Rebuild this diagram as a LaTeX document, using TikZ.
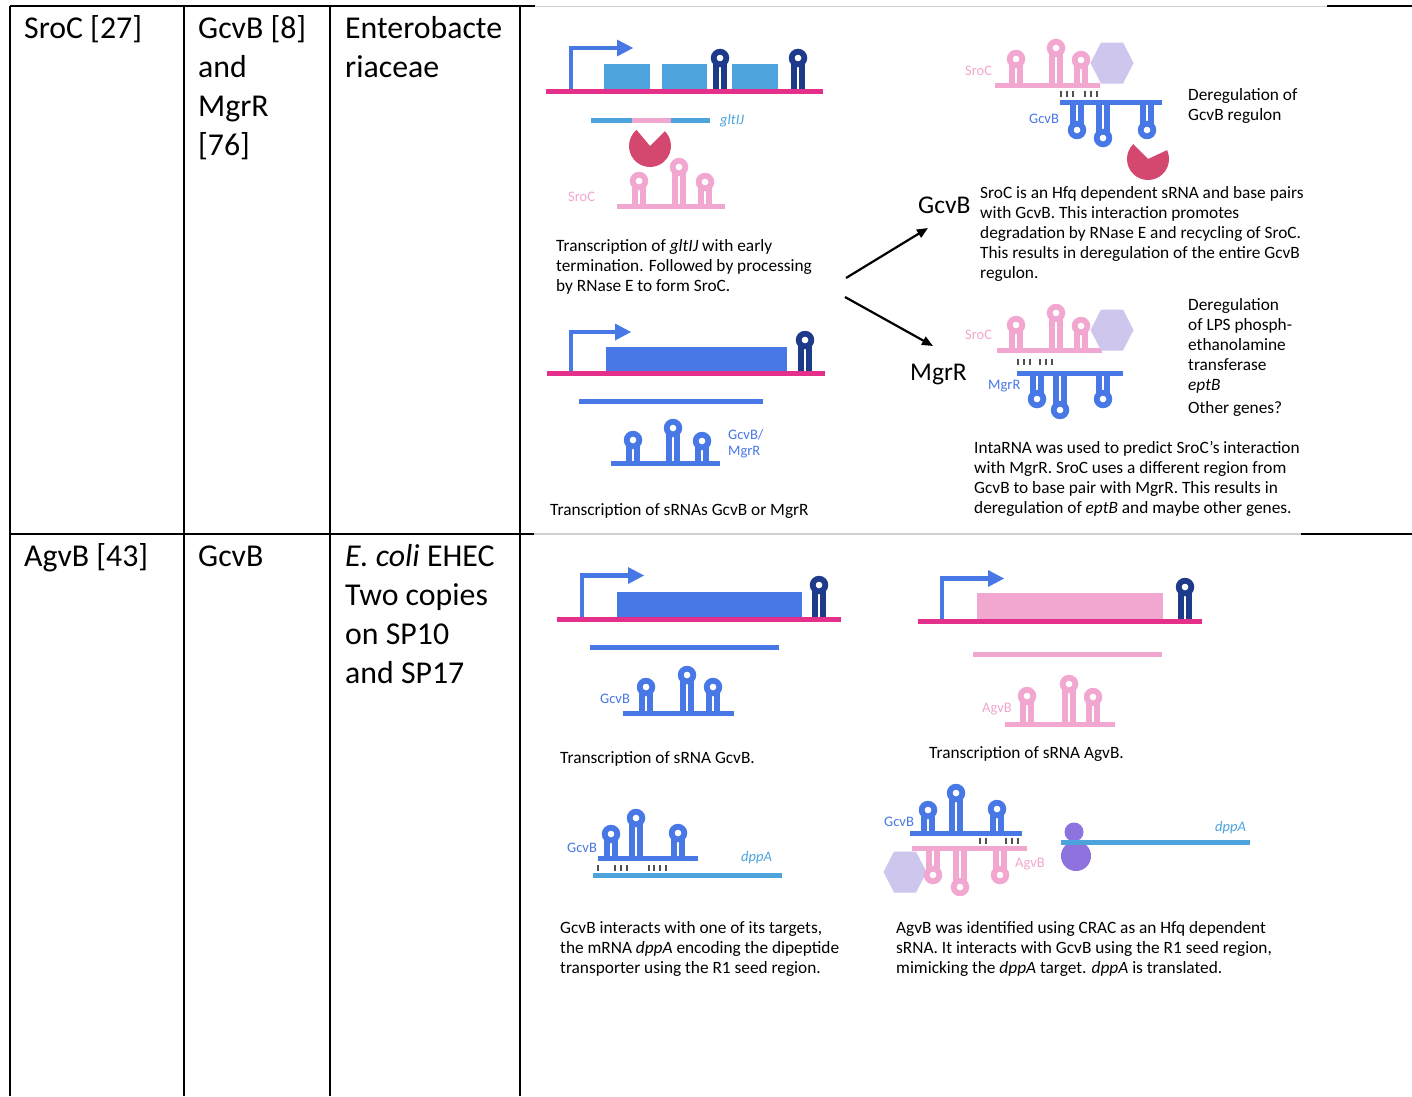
\documentclass[tikz,border=0pt]{standalone}
\usepackage{fontspec}
\setmainfont{Carlito}
\usetikzlibrary{arrows.meta}
\definecolor{cblue}{HTML}{4878E6}
\definecolor{cnavy}{HTML}{1E3A8A}
\definecolor{cmag}{HTML}{E4308A}
\definecolor{clb}{HTML}{4DA3DC}
\definecolor{cpink}{HTML}{F2A7D0}
\definecolor{ccrim}{HTML}{D4486F}
\definecolor{chex}{HTML}{CFC6EE}
\definecolor{cpur}{HTML}{8E72DD}
\definecolor{ctick}{HTML}{505050}
\tikzset{
  txt/.style={anchor=base west, inner sep=0pt, font=\fontsize{17.3}{20}\selectfont},
  cell/.style={anchor=base west, inner sep=0pt, font=\fontsize{31.8}{39}\selectfont},
  lbl/.style={anchor=west, inner sep=0pt, font=\fontsize{14.5}{17}\selectfont},
  big/.style={anchor=base west, inner sep=0pt, font=\fontsize{25.5}{30}\selectfont},
  tbl/.style={line width=1.5pt, black},
  imgframe/.style={line width=1.2pt, black!18},
  strand/.style={line width=5pt},
  arr/.style={line width=2.2pt, -{Triangle[length=11pt,width=9pt]}},
}
% hairpin pointing up / down
\newcommand\hpu[4]{\draw[line width=5.5pt,#4] ({#1-4},{#2}) -- ({#1-4},{#3+4.5}) ({#1+4},{#2}) -- ({#1+4},{#3+4.5});
  \draw[line width=5.8pt,#4] (#1,#3) circle[radius=6.3pt];}
\newcommand\hpd[4]{\draw[line width=5.5pt,#4] ({#1-4},{#2}) -- ({#1-4},{#3-4.5}) ({#1+4},{#2}) -- ({#1+4},{#3-4.5});
  \draw[line width=5.8pt,#4] (#1,#3) circle[radius=6.3pt];}
\newcommand\rnaup[5]{\draw[strand,#4] (#1,#3) -- (#2,#3);
  \foreach \hx/\hy in {#5} {\hpu{\hx}{#3}{\hy}{#4}}}
\newcommand\rnadn[5]{\draw[strand,#4] (#1,#3) -- (#2,#3);
  \foreach \hx/\hy in {#5} {\hpd{\hx}{#3}{\hy}{#4}}}
\newcommand\prom[4]{\draw[cblue, line width=4.5pt] (#1,#2) -- (#1,#3) -- ({#4+1},#3);
  \fill[cblue] (#4,{#3-8.5}) -- ({#4+16},#3) -- (#4,{#3+8.5}) -- cycle;}
\newcommand\pac[4]{\fill[ccrim] (#1,#2) -- ++(#3:21pt) arc[start angle=#3, end angle={#4+360}, radius=21pt] -- cycle;}
\newcommand\hexa[2]{\fill[chex] ({#1-21.5},#2) -- ({#1-11},{#2-20.5}) -- ({#1+11},{#2-20.5}) -- ({#1+21.5},#2) -- ({#1+11},{#2+20.5}) -- ({#1-11},{#2+20.5}) -- cycle;}
\newcommand\bpticks[2]{\foreach \tx in {#2} {\draw[ctick, line width=2.5pt] (\tx,{#1-3}) -- (\tx,{#1+3});}}
\begin{document}
\begin{tikzpicture}[x=1pt,y=-1pt]
\useasboundingbox[fill=white] (0,0) rectangle (1412,1096);
% ---------- table ----------
\draw[imgframe] (535,6.5) -- (1327,6.5);
\draw[imgframe] (534,534) -- (1301,534);
\draw[tbl] (10,6) -- (535,6);
\draw[tbl] (1327,6) -- (1412,6);
\draw[tbl] (10,534) -- (534,534);
\draw[tbl] (1301,534) -- (1412,534);
\foreach \vx in {10,184,330,520} {\draw[tbl] (\vx,6) -- (\vx,1096);}
\node[cell] (c11) at (24,38) {SroC [27]};
\foreach \t [count=\i] in {{GcvB [8]},{and},{MgrR},{[76]}} {\node[cell] (c12\i) at (198,{38+39*(\i-1)}) {\t};}
\foreach \t [count=\i] in {{Enterobacte},{riaceae}} {\node[cell] (c13\i) at (345,{38+39*(\i-1)}) {\t};}
\node[cell] (c21) at (24,566) {AgvB [43]};
\node[cell] (c22) at (198,566) {GcvB};
\foreach \t [count=\i] in {{\textit{E. coli} EHEC},{Two copies},{on SP10},{and SP17}} {\node[cell] (c23\i) at (345,{566+39*(\i-1)}) {\t};}

% ---------- top-left: gltIJ ----------
\fill[clb] (604,64) rectangle (650,89);
\fill[clb] (662,64) rectangle (707,89);
\fill[clb] (732,64) rectangle (778,89);
\prom{571}{91}{48}{617}
\draw[strand,cmag] (546,91) -- (823,91);
\hpu{720}{89}{58}{cnavy}
\hpu{798}{89}{58}{cnavy}
\draw[strand,clb] (591,120) -- (710,120);
\draw[strand,cpink] (632,120) -- (671,120);
\node[lbl,clb] (lglt) at (720,121) {\textit{gltIJ}};
\pac{650}{146}{130}{45}
\rnaup{617}{725}{206}{cpink}{639/181,679/167,705/182}
\node[lbl,cpink] (lsroc1) at (568,197) {SroC};
\foreach \t [count=\i] in {{Transcription of \textit{gltIJ} with early},{termination. Followed by processing},{by RNase E to form SroC.}} {\node[txt] (ta\i) at (556,{251+20*(\i-1)}) {\t};}

% ---------- top-left lower: GcvB / MgrR ----------
\fill[cblue] (606,347) rectangle (787,373);
\prom{571}{373}{332}{615}
\draw[strand,cmag] (547,373) -- (825,373);
\hpu{805}{371}{340}{cnavy}
\draw[strand,cblue] (579,401) -- (763,401);
\rnaup{611}{720}{463}{cblue}{633/440,673/428,702/441}
\node[lbl,cblue] (lgm1) at (728,435) {GcvB/};
\node[lbl,cblue] (lgm2) at (728,452) {MgrR};
\node[txt] (tb) at (550,515) {Transcription of sRNAs GcvB or MgrR};

% ---------- arrows ----------
\node[big] (bgcvb) at (918,213) {GcvB};
\node[big] (bmgrr) at (910,380) {MgrR};
\coordinate (a1s) at (846,278);
\coordinate (a1e) at (928,228);
\coordinate (a2s) at (845,297);
\coordinate (a2e) at (933,346);
\draw[arr] (a1s) -- (a1e);
\draw[arr] (a2s) -- (a2e);

% ---------- top-right: SroC-GcvB ----------
\rnaup{995}{1100}{85}{cpink}{1016/59,1056/48,1081/60}
\hexa{1112}{63}
\node[lbl,cpink] (lsroc2) at (965,71) {SroC};
\bpticks{94}{1061,1067,1073,1085,1091,1097}
\rnadn{1060}{1162}{102}{cblue}{1077/130,1103/138,1147/130}
\node[lbl,cblue] (lgcvb2) at (1029,119) {GcvB};
\pac{1148}{159}{135}{25}
\node[txt] (tc1) at (1188,100) {Deregulation of};
\node[txt] (tc2) at (1188,120) {GcvB regulon};
\foreach \t [count=\i] in {{SroC is an Hfq dependent sRNA and base pairs},{with GcvB. This interaction promotes},{degradation by RNase E and recycling of SroC.},{This results in deregulation of the entire GcvB},{regulon.}} {\node[txt] (td\i) at (980,{198+20.2*(\i-1)}) {\t};}

% ---------- middle-right: SroC-MgrR ----------
\rnaup{997}{1102}{350}{cpink}{1016/325,1056/313,1081/326}
\hexa{1112}{330}
\node[lbl,cpink] (lsroc3) at (965,335) {SroC};
\bpticks{362}{1018,1024,1030,1040,1046,1052}
\rnadn{1017}{1123}{373}{cblue}{1037/399,1060/410,1103/399}
\node[lbl,cblue] (lmgrr) at (988,386) {MgrR};
\foreach \t [count=\i] in {{Deregulation},{of LPS phosph-},{ethanolamine},{transferase},{\textit{eptB}}} {\node[txt] (te\i) at (1188,{310+20*(\i-1)}) {\t};}
\node[txt] (te6) at (1188,413) {Other genes?};
\foreach \t [count=\i] in {{IntaRNA was used to predict SroC’s interaction},{with MgrR. SroC uses a different region from},{GcvB to base pair with MgrR. This results in},{deregulation of \textit{eptB} and maybe other genes.}} {\node[txt] (tf\i) at (974,{453+20*(\i-1)}) {\t};}

% ---------- bottom-left: GcvB ----------
\fill[cblue] (617,592) rectangle (802,619);
\prom{582}{619}{575.5}{628}
\draw[strand,cmag] (557,619) -- (841,619);
\hpu{819}{617}{585}{cnavy}
\draw[strand,cblue] (590,647) -- (779,647);
\rnaup{623}{734}{713}{cblue}{646/687,687/675,713/687}
\node[lbl,cblue] (lgcvb3) at (600,699) {GcvB};
\node[txt] (tg) at (560,763) {Transcription of sRNA GcvB.};

% ---------- bottom-right: AgvB ----------
\fill[cpink] (977,593) rectangle (1163,621);
\prom{942}{621}{578.5}{988}
\draw[strand,cmag] (918,621) -- (1202,621);
\hpu{1185}{619}{587}{cnavy}
\draw[strand,cpink] (973,654) -- (1162,654);
\rnaup{1005}{1115}{724}{cpink}{1027/696,1069/684,1093/697}
\node[lbl,cpink] (lagvb1) at (982,709) {AgvB};
\node[txt] (th) at (929,758) {Transcription of sRNA AgvB.};

% ---------- bottom-left 2: GcvB-dppA ----------
\rnaup{598}{698}{858}{cblue}{611/834,636/818,678/833}
\node[lbl,cblue] (lgcvb4) at (567,848) {GcvB};
\bpticks{868}{598,615,621,627,649,654,660,666}
\draw[strand,clb] (593,875) -- (782,875);
\node[lbl,clb] (ldppa1) at (741,858) {\textit{dppA}};
\foreach \t [count=\i] in {{GcvB interacts with one of its targets,},{the mRNA \textit{dppA} encoding the dipeptide},{transporter using the R1 seed region.}} {\node[txt] (ti\i) at (560,{933+20*(\i-1)}) {\t};}

% ---------- bottom-right 2: GcvB-AgvB ----------
\hexa{905}{872}
\rnaup{910}{1022}{833}{cblue}{928/810,956/793,997/809}
\node[lbl,cblue] (lgcvb5) at (884,822) {GcvB};
\bpticks{841}{980,986,1006,1012,1018}
\rnadn{912}{1027}{848}{cpink}{933/875,960/887,1000/875}
\node[lbl,cpink] (lagvb2) at (1015,864) {AgvB};
\fill[cpur] (1074,832) circle[radius=9.5pt];
\fill[cpur] (1076,856) circle[radius=15pt];
\draw[strand,clb] (1061,842) -- (1250,842);
\node[lbl,clb] (ldppa2) at (1215,828) {\textit{dppA}};
\foreach \t [count=\i] in {{AgvB was identified using CRAC as an Hfq dependent},{sRNA. It interacts with GcvB using the R1 seed region,},{mimicking the \textit{dppA} target. \textit{dppA} is translated.}} {\node[txt] (tj\i) at (896,{933+20*(\i-1)}) {\t};}
\end{tikzpicture}
\end{document}
